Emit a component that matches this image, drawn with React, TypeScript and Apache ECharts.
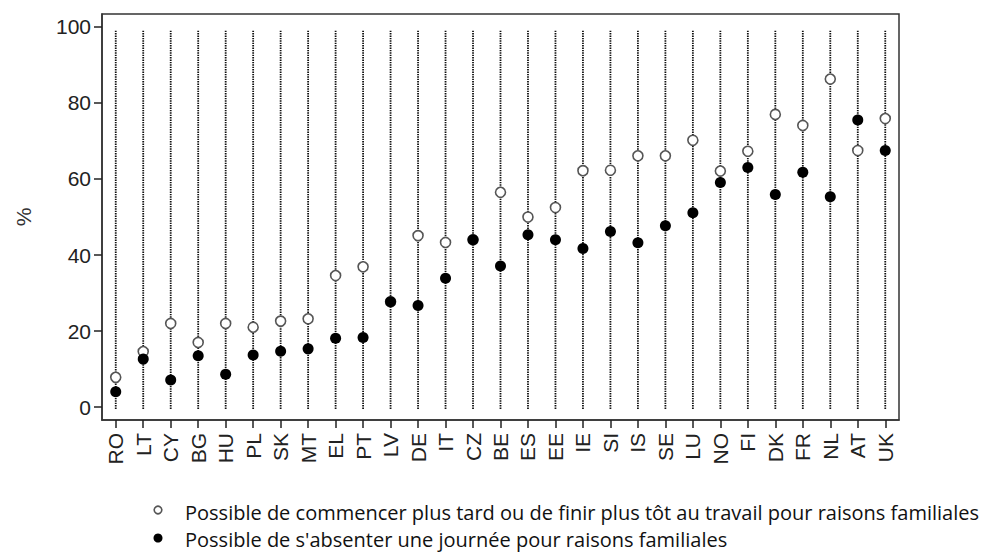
import React, { useEffect, useRef } from "react";
import * as echarts from "echarts";

const countries = ["RO","LT","CY","BG","HU","PL","SK","MT","EL","PT","LV","DE","IT","CZ","BE","ES","EE","IE","SI","IS","SE","LU","NO","FI","DK","FR","NL","AT","UK"];
const flexStart = [7.8,14.6,22.0,17.0,22.0,21.0,22.6,23.2,34.6,36.9,27.7,45.1,43.3,44.0,56.5,50.0,52.5,62.2,62.3,66.1,66.1,70.2,62.1,67.3,77.0,74.1,86.3,67.5,75.9];
const dayOff = [4.0,12.6,7.1,13.5,8.6,13.7,14.7,15.3,18.1,18.3,27.7,26.7,33.9,44.0,37.1,45.3,44.0,41.7,46.2,43.2,47.7,51.1,59.1,63.0,55.9,61.8,55.3,75.5,67.5];
const yTicks = [0, 20, 40, 60, 80, 100];
const seriesNames = [
  "Possible de commencer plus tard ou de finir plus tôt au travail pour raisons familiales",
  "Possible de s'absenter une journée pour raisons familiales",
];
const guideRange = [-0.5, 99];

export default function App() {
  const ref = useRef<HTMLDivElement>(null);
  useEffect(() => {
    if (!ref.current) return;
    const chart = echarts.init(ref.current, null, { renderer: "svg" });
    const font = "'Liberation Sans', Arial, sans-serif";
    const legendFont = "'Open Sans', sans-serif";
    chart.setOption({
      animation: false,
      backgroundColor: "#fff",
      grid: {
        left: 102, right: 84, top: 14, bottom: 132,
        show: true, borderColor: "#333", borderWidth: 1.5, backgroundColor: "transparent",
      },
      graphic: [
        {
          type: "circle",
          shape: { cx: 158, cy: 510, r: 3.8 },
          style: { fill: "#fff", stroke: "#555", lineWidth: 1.6 },
        },
        {
          type: "circle",
          shape: { cx: 158, cy: 538, r: 4.5 },
          style: { fill: "#000" },
        },
        {
          type: "text",
          x: 185,
          y: 512,
          style: { text: seriesNames[0], fontFamily: legendFont, fontSize: 20, fill: "#111", verticalAlign: "middle", align: "left" },
        },
        {
          type: "text",
          x: 185,
          y: 539,
          style: { text: seriesNames[1], fontFamily: legendFont, fontSize: 20, fill: "#111", verticalAlign: "middle", align: "left" },
        },
      ],
      xAxis: {
        type: "category",
        data: countries,
        boundaryGap: true,
        axisLine: { show: true, onZero: false, lineStyle: { color: "#333", width: 1.5 } },
        axisTick: { show: true, alignWithLabel: true, length: 8, lineStyle: { color: "#222", width: 1.5 } },
        axisLabel: { rotate: 90, margin: 13, fontFamily: font, fontSize: 21, color: "#222", interval: 0 },
        splitLine: { show: false },
      },
      yAxis: {
        type: "value",
        min: -3.42,
        max: 103.42,
        name: "%",
        nameLocation: "middle",
        nameGap: 68,
        nameRotate: 90,
        nameTextStyle: { fontFamily: font, fontSize: 21, color: "#333" },
        axisLine: { show: true, lineStyle: { color: "#333", width: 1.5 } },
        axisTick: { show: true, length: 8, customValues: yTicks, lineStyle: { color: "#222", width: 1.5 } },
        axisLabel: { customValues: yTicks, margin: 11, fontFamily: font, fontSize: 21, color: "#222" },
        splitLine: { show: false },
      },
      series: [
        {
          type: "custom",
          silent: true,
          z: 1,
          data: countries.map((_, i) => [i, guideRange[0], guideRange[1]]),
          renderItem: (params: any, api: any) => {
            const p0 = api.coord([api.value(0), api.value(1)]);
            const p1 = api.coord([api.value(0), api.value(2)]);
            return {
              type: "line",
              shape: { x1: p0[0], y1: p0[1], x2: p1[0], y2: p1[1] },
              style: { stroke: "#111", lineWidth: 1.8, lineDash: [1.4, 1] },
            };
          },
        },
        {
          name: seriesNames[0],
          type: "scatter",
          z: 2,
          data: flexStart,
          symbol: "circle",
          symbolSize: 10,
          itemStyle: { color: "#fff", borderColor: "#555", borderWidth: 1.6, opacity: 1 },
        },
        {
          name: "inner",
          type: "scatter",
          z: 3,
          silent: true,
          data: flexStart,
          symbol: "emptyCircle",
          symbolSize: 3,
          itemStyle: { color: "#fff", borderColor: "#777", borderWidth: 1, opacity: 1 },
        },
        {
          name: seriesNames[1],
          type: "scatter",
          z: 4,
          data: dayOff,
          symbol: "circle",
          symbolSize: 11,
          itemStyle: { color: "#000", opacity: 1 },
        },
      ],
    });
    return () => chart.dispose();
  }, []);
  return <div ref={ref} style={{ width: 983, height: 552, position: "absolute", left: 0, top: 0 }} />;
}
